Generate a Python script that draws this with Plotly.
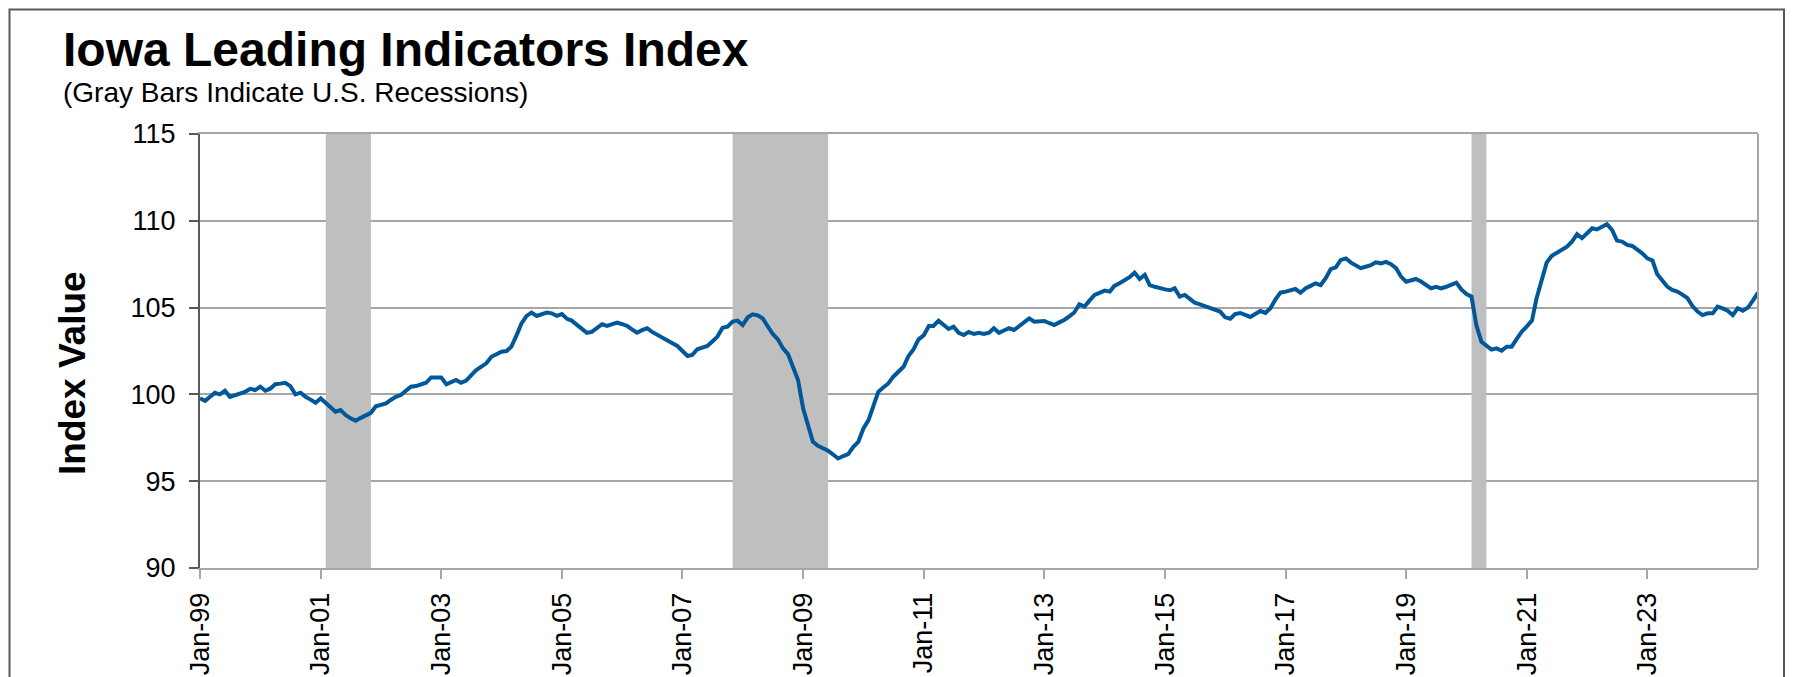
import pandas as pd
import plotly.graph_objects as go

# Monthly Iowa Leading Indicators Index, Jan 1999 - Nov 2024
start_month = "1999-01-01"
index_values = [
    # 1999
    99.77, 99.63, 99.85, 100.09, 100.0, 100.21, 99.86, 99.95, 100.06, 100.15, 100.32, 100.25,
    # 2000
    100.44, 100.21, 100.33, 100.59, 100.62, 100.67, 100.48, 100.0, 100.1, 99.86, 99.7, 99.52,
    # 2001
    99.77, 99.48, 99.25, 99.0, 99.1, 98.81, 98.62, 98.48, 98.65, 98.8, 98.94, 99.32,
    # 2002
    99.4, 99.48, 99.68, 99.86, 99.96, 100.2, 100.44, 100.48, 100.59, 100.67, 100.98, 100.97,
    # 2003
    100.98, 100.58, 100.7, 100.83, 100.67, 100.79, 101.1, 101.4, 101.6, 101.79, 102.17, 102.3,
    # 2004
    102.46, 102.5, 102.75, 103.4, 104.09, 104.52, 104.71, 104.52, 104.62, 104.71, 104.67, 104.52,
    # 2005
    104.63, 104.35, 104.25, 104.0, 103.75, 103.55, 103.6, 103.8, 104.04, 103.94, 104.03, 104.13,
    # 2006
    104.05, 103.94, 103.75, 103.55, 103.7, 103.81, 103.6, 103.45, 103.3, 103.13, 102.95, 102.79,
    # 2007
    102.5, 102.21, 102.27, 102.6, 102.7, 102.79, 103.05, 103.33, 103.84, 103.9, 104.19, 104.25,
    # 2008
    104.0, 104.44, 104.61, 104.55, 104.38, 103.9, 103.48, 103.17, 102.65, 102.32, 101.6, 100.83,
    # 2009
    99.19, 98.23, 97.27, 97.04, 96.9, 96.75, 96.54, 96.31, 96.45, 96.56, 96.98, 97.27,
    # 2010
    98.04, 98.52, 99.3, 100.15, 100.4, 100.63, 101.02, 101.3, 101.59, 102.21, 102.6, 103.17,
    # 2011
    103.4, 103.94, 103.94, 104.25, 104.0, 103.77, 103.9, 103.55, 103.42, 103.6, 103.48, 103.55,
    # 2012
    103.48, 103.55, 103.81, 103.55, 103.68, 103.81, 103.71, 103.94, 104.15, 104.38, 104.19, 104.2,
    # 2013
    104.23, 104.1, 104.0, 104.15, 104.29, 104.5, 104.72, 105.19, 105.06, 105.4, 105.73, 105.85,
    # 2014
    105.98, 105.92, 106.25, 106.4, 106.55, 106.75, 107.01, 106.65, 106.88, 106.3, 106.2, 106.11,
    # 2015
    106.05, 106.0, 106.11, 105.63, 105.73, 105.5, 105.28, 105.18, 105.09, 105.0, 104.9, 104.77,
    # 2016
    104.44, 104.36, 104.63, 104.69, 104.58, 104.46, 104.63, 104.8, 104.69, 104.96, 105.48, 105.86,
    # 2017
    105.92, 106.0, 106.07, 105.86, 106.1, 106.25, 106.4, 106.3, 106.69, 107.21, 107.32, 107.75,
    # 2018
    107.83, 107.59, 107.43, 107.27, 107.35, 107.44, 107.61, 107.55, 107.63, 107.5, 107.27, 106.79,
    # 2019
    106.49, 106.57, 106.65, 106.5, 106.34, 106.11, 106.2, 106.11, 106.2, 106.3, 106.44, 106.05,
    # 2020
    105.78, 105.63, 103.99, 103.03, 102.8, 102.58, 102.65, 102.52, 102.75, 102.75, 103.2, 103.61,
    # 2021
    103.92, 104.25, 105.54, 106.59, 107.59, 107.98, 108.15, 108.28, 108.51, 108.8, 109.23, 109.0,
    # 2022
    109.28, 109.57, 109.5, 109.67, 109.8, 109.48, 108.86, 108.8, 108.61, 108.55, 108.36, 108.13,
    # 2023
    107.84, 107.71, 106.94, 106.55, 106.21, 106.02, 105.92, 105.75, 105.54, 105.09, 104.77, 104.57,
    # 2024
    104.67, 104.67, 105.05, 104.95, 104.82, 104.57, 104.96, 104.82, 105.0, 105.4, 105.86,
]
months = pd.date_range(start_month, periods=len(index_values), freq="MS")

# U.S. recession shading (gray bars)
recession_starts = ["2001-02-01", "2007-11-01", "2020-02-01"]
recession_ends = ["2001-11-01", "2009-06-01", "2020-05-01"]

y_ticks = [90, 95, 100, 105, 110, 115]

# page has an 8px body margin; figure is sized to fill the rest of the window
W, H = 1785, 669
L, T, B = 192, 126, 109
R = 35
PW = W - L - R
PH = H - T - B


def px_x(x_full):
    return (x_full - 8 - L) / PW


def px_y(y_full):
    return (H - B - (y_full - 8)) / PH


fig = go.Figure()
fig.add_trace(go.Scatter(
    x=months, y=index_values, mode="lines",
    line=dict(color="#00589A", width=4),
    hoverinfo="x+y", showlegend=False,
))

shapes = []
for s, e in zip(recession_starts, recession_ends):
    shapes.append(dict(type="rect", xref="x", yref="y", x0=s, x1=e, y0=90, y1=115,
                       fillcolor="#BFBFBF", line=dict(width=0), layer="between"))
# right border of plot area
shapes.append(dict(type="line", xref="paper", yref="paper", x0=1, x1=1, y0=0, y1=1,
                   line=dict(color="#A6A6A6", width=2), layer="above"))
# outer chart frame
shapes.append(dict(type="rect", xref="paper", yref="paper",
                   x0=px_x(9.5), x1=px_x(1784), y0=px_y(720), y1=px_y(9.5),
                   line=dict(color="#595959", width=2), fillcolor="rgba(0,0,0,0)", layer="above"))

font_family = "Liberation Sans, Arial, sans-serif"

annotations = [
    dict(text="<b>Iowa Leading Indicators Index</b>", xref="paper", yref="paper",
         x=px_x(61), y=px_y(49.5), xanchor="left", yanchor="middle",
         showarrow=False, font=dict(family=font_family, size=48, color="black")),
    dict(text="(Gray Bars Indicate U.S. Recessions)", xref="paper", yref="paper",
         x=px_x(61), y=px_y(92.5), xanchor="left", yanchor="middle",
         showarrow=False, font=dict(family=font_family, size=28, color="black")),
    dict(text="<b>Index Value</b>", xref="paper", yref="paper", textangle=-90,
         x=px_x(72), y=px_y(373), xanchor="center", yanchor="middle",
         showarrow=False, font=dict(family=font_family, size=37, color="black")),
]

fig.update_layout(
    width=W, height=H,
    margin=dict(l=L, r=R, t=T, b=B),
    paper_bgcolor="white", plot_bgcolor="white",
    font=dict(family=font_family, color="black"),
    shapes=shapes, annotations=annotations,
    xaxis=dict(
        type="date", range=[months[0], months[-1]], automargin=False,
        tick0=start_month, dtick="M24", tickformat="%b-%y", tickangle=-90,
        ticks="outside", ticklen=9, tickwidth=2, tickcolor="#A6A6A6",
        showline=True, linecolor="#A6A6A6", linewidth=2, mirror=True,
        showgrid=False, zeroline=False,
        tickfont=dict(family=font_family, size=27, color="black"),
        ticklabelstandoff=3,
    ),
    yaxis=dict(
        range=[90, 115], tickvals=y_ticks, automargin=False,
        ticks="outside", ticklen=9, tickwidth=2, tickcolor="#595959",
        showline=True, linecolor="#595959", linewidth=2,
        showgrid=True, gridcolor="#A6A6A6", gridwidth=2, zeroline=False,
        tickfont=dict(family=font_family, size=27, color="black"),
        ticklabelstandoff=8,
    ),
)

fig.write_html("out.html")
